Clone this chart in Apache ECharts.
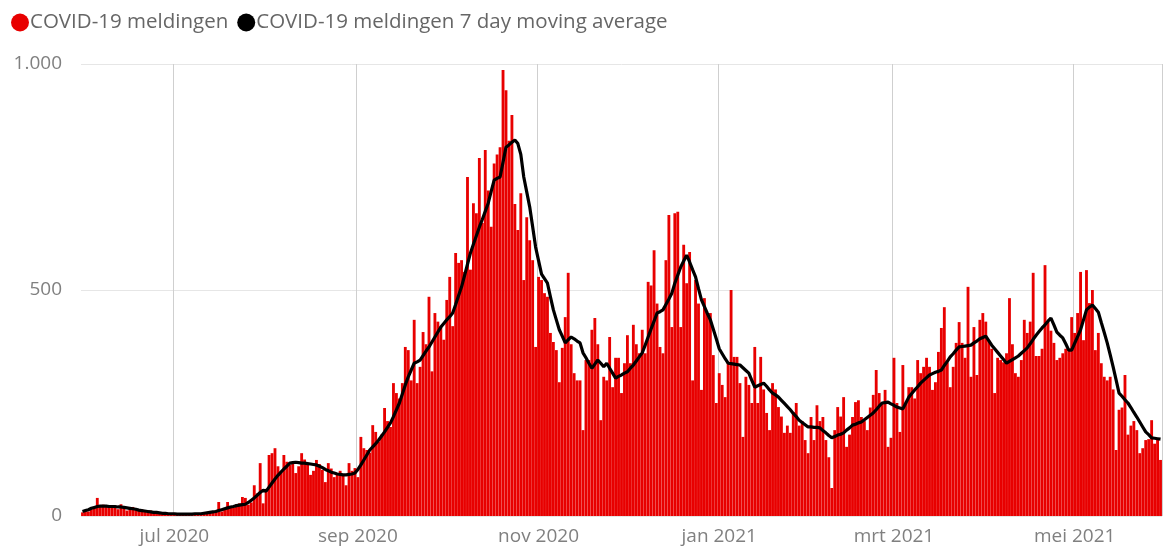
<!DOCTYPE html>
<html>
<head>
<meta charset="utf-8">
<script src="https://cdn.jsdelivr.net/npm/echarts@6/dist/echarts.min.js"></script>
<style>
html,body{margin:0;padding:0;background:#fff;}
#chart{width:1165px;height:548px;}
</style>
</head>
<body>
<div id="chart"></div>
<script>
// Categories: one per day, 2020-05-31 .. 2021-05-30
const startDate = '2020-05-31';
const dayCount = 365;
const categories = [];
(function(){
  const d0 = new Date(startDate + 'T00:00:00Z');
  for (let i = 0; i < dayCount; i++) {
    const d = new Date(d0.getTime() + i * 86400000);
    categories.push(d.toISOString().slice(0, 10));
  }
})();

// Tick labels (Dutch month abbreviations) at first day of months
const tickDates = ['2020-07-01','2020-09-01','2020-11-01','2021-01-01','2021-03-01','2021-05-01'];
const tickLabels = ['jul 2020','sep 2020','nov 2020','jan 2021','mrt 2021','mei 2021'];

const seriesNames = ['COVID-19 meldingen', 'COVID-19 meldingen 7 day moving average'];

// Daily reports
const dailyValues = [
  8, 12, 10, 15, 18, 40, 20, 25, 22, 18,
  24, 20, 15, 26, 22, 12, 18, 20, 14, 12,
  15, 10, 8, 12, 9, 6, 8, 5, 7, 4,
  5, 3, 6, 4, 3, 5, 4, 2, 6, 5,
  4, 8, 6, 10, 7, 12, 31, 10, 18, 31,
  20, 18, 26, 28, 42, 40, 25, 30, 68, 50,
  117, 28, 60, 135, 139, 150, 110, 95, 135, 120,
  113, 118, 95, 110, 139, 125, 113, 91, 100, 124,
  115, 102, 75, 117, 105, 86, 95, 100, 90, 68,
  117, 100, 106, 86, 175, 150, 146, 140, 201, 186,
  165, 180, 239, 210, 197, 294, 272, 260, 294, 374,
  367, 300, 434, 294, 330, 407, 380, 485, 320, 449,
  430, 420, 390, 478, 529, 420, 582, 560, 566, 540,
  750, 545, 692, 670, 792, 648, 810, 720, 640, 780,
  800, 816, 987, 942, 830, 887, 690, 633, 714, 522,
  661, 610, 566, 374, 529, 522, 493, 485, 405, 385,
  367, 296, 372, 440, 538, 380, 316, 300, 300, 190,
  345, 345, 412, 438, 380, 212, 308, 300, 396, 285,
  350, 350, 272, 338, 400, 338, 423, 380, 360, 412,
  360, 518, 510, 588, 470, 374, 360, 566, 666, 418,
  670, 673, 418, 600, 515, 584, 300, 522, 470, 279,
  482, 449, 449, 356, 250, 316, 290, 263, 340, 500,
  352, 352, 294, 175, 308, 290, 250, 374, 250, 352,
  280, 228, 190, 294, 280, 241, 220, 184, 200, 184,
  230, 250, 200, 210, 168, 139, 219, 168, 245, 210,
  219, 168, 130, 62, 190, 241, 220, 263, 153, 180,
  219, 252, 256, 219, 210, 190, 240, 268, 323, 272,
  250, 279, 153, 173, 350, 250, 186, 334, 250, 285,
  285, 260, 345, 316, 330, 350, 330, 279, 296, 363,
  416, 462, 340, 285, 330, 383, 429, 383, 350, 507,
  308, 418, 312, 434, 449, 430, 389, 370, 272, 350,
  345, 340, 360, 482, 380, 316, 308, 345, 434, 405,
  430, 538, 354, 354, 370, 555, 429, 410, 383, 345,
  350, 360, 370, 370, 440, 405, 449, 540, 389, 544,
  471, 500, 367, 405, 338, 308, 300, 308, 280, 146,
  235, 240, 312, 180, 200, 210, 190, 139, 150, 168,
  170, 212, 160, 170, 124
];

// 7 day moving average
const movingAverage = [
  10, 12, 14, 17, 19, 21, 22, 22, 22, 21,
  21, 21, 20, 20, 19, 18, 17, 16, 15, 13,
  12, 11, 10, 9, 8, 8, 7, 6, 6, 5,
  5, 5, 4, 4, 4, 4, 4, 4, 5, 5,
  5, 6, 7, 8, 9, 10, 12, 14, 16, 18,
  20, 21, 23, 24, 25, 26, 30, 35, 40, 46,
  52, 57, 55, 64, 73, 82, 90, 97, 104, 110,
  117, 118, 119, 118, 117, 117, 116, 115, 114, 113,
  110, 107, 103, 100, 97, 95, 93, 92, 91, 91,
  92, 93, 95, 103, 113, 124, 135, 146, 153, 160,
  168, 177, 186, 196, 206, 220, 235, 250, 270, 290,
  308, 323, 338, 341, 345, 355, 365, 374, 385, 396,
  407, 418, 426, 434, 441, 449, 468, 488, 507, 532,
  557, 582, 601, 620, 639, 656, 674, 692, 718, 743,
  747, 750, 783, 816, 821, 827, 832, 824, 800, 750,
  717, 684, 640, 595, 565, 535, 525, 515, 485, 456,
  434, 412, 398, 383, 390, 396, 392, 387, 383, 361,
  350, 338, 327, 336, 345, 338, 330, 338, 327, 316,
  305, 309, 312, 316, 319, 327, 334, 343, 352, 361,
  378, 396, 414, 431, 449, 452, 456, 468, 480, 493,
  515, 533, 551, 564, 577, 562, 545, 529, 503, 478,
  463, 448, 434, 413, 392, 370, 359, 348, 338, 337,
  336, 335, 334, 328, 322, 316, 300, 285, 288, 291,
  294, 287, 279, 272, 268, 263, 256, 249, 242, 235,
  227, 220, 212, 207, 202, 197, 197, 196, 196, 195,
  189, 184, 178, 173, 176, 179, 181, 184, 190, 195,
  201, 203, 206, 208, 213, 218, 223, 228, 235, 243,
  250, 251, 252, 248, 245, 241, 239, 237, 250, 263,
  271, 279, 286, 294, 300, 306, 312, 315, 318, 320,
  323, 333, 342, 352, 359, 367, 374, 375, 376, 377,
  378, 383, 387, 392, 395, 398, 388, 378, 370, 362,
  354, 346, 338, 342, 346, 350, 354, 360, 366, 372,
  381, 391, 400, 408, 416, 423, 431, 438, 423, 407,
  400, 394, 381, 367, 367, 382, 397, 412, 434, 456,
  462, 467, 459, 451, 428, 406, 383, 357, 330, 301,
  272, 265, 257, 250, 240, 229, 219, 208, 197, 186,
  180, 173, 172, 171, 170
];

const yTicks = [0, 500, 1000];

const chart = echarts.init(document.getElementById('chart'), null, {renderer: 'canvas'});
const isTick = (idx) => tickDates.indexOf(categories[idx]) >= 0;
const fontFam = '"Open Sans", "Noto Sans", "DejaVu Sans", sans-serif';

chart.setOption({
  animation: false,
  backgroundColor: '#ffffff',
  legend: {
    left: 6,
    top: 7,
    itemGap: 9,
    itemWidth: 18,
    itemHeight: 18,
    icon: 'circle',
    textStyle: {fontSize: 20.5, color: '#666666', fontFamily: fontFam, padding: [0, 0, 0, -4]},
    data: [
      {name: seriesNames[0], itemStyle: {color: '#e80000'}},
      {name: seriesNames[1], itemStyle: {color: '#000000'}}
    ]
  },
  grid: {left: 81, right: 3, top: 64, bottom: 32, containLabel: false},
  xAxis: {
    type: 'category',
    data: categories,
    boundaryGap: true,
    axisLine: {show: false},
    axisTick: {show: false},
    axisLabel: {
      interval: (idx) => isTick(idx),
      formatter: (val) => {
        const i = tickDates.indexOf(val);
        return i >= 0 ? tickLabels[i] : '';
      },
      color: '#808080',
      fontSize: 19,
      fontFamily: fontFam,
      margin: 11
    },
    splitLine: {
      show: true,
      interval: (idx) => isTick(idx),
      lineStyle: {color: '#cfcfcf', width: 1}
    }
  },
  yAxis: {
    type: 'value',
    min: yTicks[0],
    max: yTicks[yTicks.length - 1],
    interval: 500,
    axisLine: {show: false},
    axisTick: {show: false},
    axisLabel: {
      formatter: (v) => v === 1000 ? '1.000' : String(v),
      color: '#808080',
      fontSize: 19,
      fontFamily: fontFam,
      margin: 19
    },
    splitLine: {lineStyle: {color: '#e6e6e6', width: 1}}
  },
  series: [
    {
      name: seriesNames[0],
      type: 'bar',
      data: dailyValues,
      barCategoryGap: '4%',
      itemStyle: {color: '#e80000'},
      z: 2
    },
    {
      name: seriesNames[1],
      type: 'line',
      data: movingAverage,
      symbol: 'none',
      smooth: false,
      lineStyle: {color: '#000000', width: 3.2},
      itemStyle: {color: '#000000'},
      z: 3
    }
  ]
});
</script>
</body>
</html>
